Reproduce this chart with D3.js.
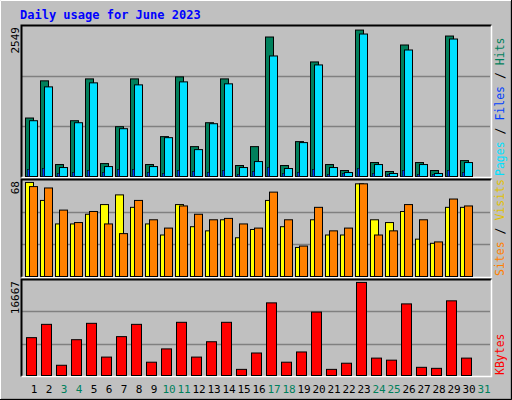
<!DOCTYPE html>
<html><head><meta charset="utf-8">
<script src="https://cdn.jsdelivr.net/npm/d3@7"></script>
<style>body{margin:0;background:#fff}svg{display:block}</style>
</head><body><svg id="c" width="512" height="400"></svg>
<script>
const days = d3.range(1,32);
const weekend = [3,4,10,11,17,18,24,25,31];
const hits  = [1018,1665,208,971,1699,225,867,1699,208,694,1734,520,936,1699,191,520,2428,191,607,1994,208,104,2549,243,87,2289,243,104,2445,277];
const files = [971,1560,156,936,1630,173,832,1595,173,676,1647,468,919,1613,156,260,2098,139,590,1942,156,69,2480,208,52,2202,208,52,2393,243];
const pages = [121,138,52,69,104,69,121,121,69,52,104,87,69,104,35,87,156,52,69,121,35,52,138,52,35,104,35,35,104,69];
const visits= [68,55,38,38,45,52,59,50,38,30,52,36,33,41,28,34,55,36,21,41,30,30,67,41,39,47,27,24,50,50];
const sites = [65,64,48,39,47,38,31,55,41,35,51,45,41,42,38,35,61,41,22,50,33,35,67,30,33,52,41,25,56,51];
const kbytes= [6777,9158,1832,6410,9341,3297,6960,9158,2381,4762,9524,3297,6044,9524,1099,4029,13004,2381,4213,11356,1099,2198,16667,3114,2747,12821,1465,1282,13370,3114];

const svg = d3.select("#c");
svg.append("rect").attr("width",512).attr("height",400).attr("fill","#c0c0c0");
svg.append("path").attr("d","M0.5,399.5V0.5H511.5").attr("stroke","#fff").attr("fill","none");
svg.append("path").attr("d","M1,399.5H511.5V1").attr("stroke","#808080").attr("stroke-width",2).attr("fill","none");
svg.append("path").attr("d","M0,399.5H511.5V0").attr("stroke","#000").attr("fill","none");
svg.append("text").attr("x",20).attr("y",19).text("Daily usage for June 2023")
  .attr("font-family","DejaVu Sans Mono").attr("font-weight","bold").attr("font-size",12).attr("fill","#0000ff");

const x = d3.scaleLinear().domain([1,32]).range([25,490]);
const mono = "DejaVu Sans Mono";

function panel(top,bottom,max,label,series,legend){
  svg.append("rect").attr("x",21.5).attr("y",top+0.5).attr("width",469).attr("height",bottom-top).attr("fill","#c0c0c0");
  const y = d3.scaleLinear().domain([0,max]).range([bottom-1, top+ (bottom-top)*0.03]);
  const h = bottom-top;
  [1/3,2/3].forEach(f=>svg.append("line").attr("x1",22).attr("x2",490).attr("y1",Math.round(top+h*f)+0.5).attr("y2",Math.round(top+h*f)+0.5).attr("stroke","#808080").attr("stroke-width",1.5));
  svg.append("path").attr("d",`M21.5,${bottom+0.5}V${top+0.5}H491.5`).attr("stroke","#000").attr("stroke-width",2).attr("fill","none");
  svg.append("path").attr("d",`M21.5,${bottom+0.5}H491.5V${top+0.5}`).attr("stroke","#fff").attr("stroke-width",1.5).attr("fill","none");
  series.forEach(s=>{
    svg.append("g").selectAll("rect").data(s.data).join("rect")
      .attr("x",(d,i)=>x(i+1)+s.off+0.5).attr("width",s.w)
      .attr("y",d=>y(d)+0.5).attr("height",d=>Math.max(0,y(0)-y(d)))
      .attr("fill",s.color).attr("stroke","#000").attr("stroke-width",s.sw||1);
  });
  svg.append("text").attr("transform",`translate(19,${top+2}) rotate(-90)`).attr("text-anchor","end")
    .attr("font-family",mono).attr("font-size",11).text(label);
  const lt = svg.append("text").attr("transform",`translate(504,${bottom-1}) rotate(-90)`)
    .attr("font-family",mono).attr("font-size",11.5);
  legend.forEach((l,i)=>{ if(i) lt.append("tspan").attr("fill","#000").text(" / "); lt.append("tspan").attr("fill",l[1]).text(l[0]); });
}

panel(25,177,2549,"2549",[
  {data:hits,color:"#00805c",off:0,w:8},
  {data:files,color:"#00e0ff",off:4,w:8},
  {data:pages,color:"#0040ff",off:2,w:2,sw:0.5}
],[["Pages","#00e0ff"],["Files","#0040ff"],["Hits","#00805c"]]);
panel(179,277,68,"68",[
  {data:visits,color:"#ffff00",off:0,w:8},
  {data:sites,color:"#ff8000",off:4,w:8}
],[["Sites","#ff8000"],["Visits","#e0c000"]]);
panel(279,376,16667,"16667",[
  {data:kbytes,color:"#ff0000",off:1,w:10}
],[["KBytes","#ff0000"]]);

svg.append("g").selectAll("text").data(days).join("text")
  .attr("x",d=>x(d)+9).attr("y",393).attr("text-anchor","middle")
  .attr("font-family",mono).attr("font-size",11)
  .attr("fill",d=>weekend.includes(d)?"#00805c":"#000").text(d=>d);
</script></body></html>
